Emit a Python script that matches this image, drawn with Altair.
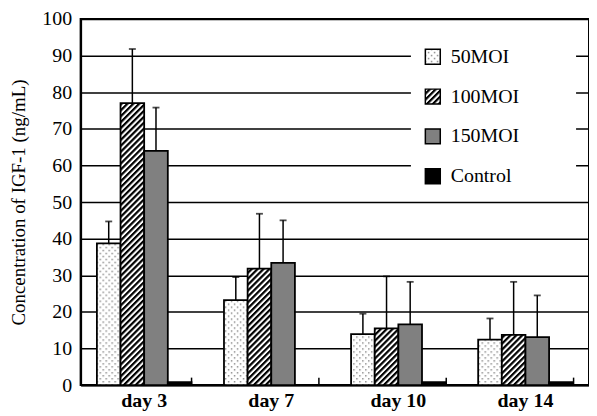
import altair as alt
import pandas as pd
import jinja2
from altair.utils.html import HTML_TEMPLATE

days = ["day 3", "day 7", "day 10", "day 14"]
groups = ["50MOI", "100MOI", "150MOI", "Control"]

mean_50 = [38.7, 23.2, 13.9, 12.4]
err_50 = [6.0, 6.3, 5.6, 5.8]
mean_100 = [77.0, 31.8, 15.5, 13.7]
err_100 = [14.8, 15.0, 14.2, 14.5]
mean_150 = [64.0, 33.4, 16.6, 13.1]
err_150 = [11.8, 11.6, 11.6, 11.4]
mean_ctrl = [0.8, None, 0.8, 0.8]
err_ctrl = [None, None, None, None]

fills = ["url(#dots) white", "url(#hatch) #333333", "#808080", "#000000"]

rows = []
for g, means, errs in zip(groups, [mean_50, mean_100, mean_150, mean_ctrl],
                          [err_50, err_100, err_150, err_ctrl]):
    for d, m, e in zip(days, means, errs):
        if m is None:
            continue
        rows.append({"day": d, "group": g, "mean": m, "err": e,
                     "upper": (m + e) if e is not None else None})
df = pd.DataFrame(rows)

FONT = "Liberation Serif"
H = 368

x_scale = alt.Scale(paddingInner=0.256, paddingOuter=0.128)
xo = alt.XOffset("group:N", sort=groups, scale=alt.Scale(paddingInner=0, paddingOuter=0))
y_axis = alt.Axis(values=list(range(0, 101, 10)), grid=True, ticks=False,
                  title="Concentration of IGF-1 (ng/mL)")
y_scale = alt.Scale(domain=[0, 100], nice=False)

base = alt.Chart(df)

pad_expr = "datum.label + '" + "\u00a0" * 9 + "\u200b'"

bars = base.mark_bar(stroke="black", strokeWidth=1.8).encode(
    x=alt.X("day:N", sort=days, scale=x_scale,
            axis=alt.Axis(title=None, ticks=False, labelAngle=0, labelFontWeight="bold",
                          labelPadding=6, grid=False)),
    xOffset=xo,
    y=alt.Y("mean:Q", scale=y_scale, axis=y_axis),
    color=alt.Color("group:N", sort=groups,
                    scale=alt.Scale(domain=groups, range=fills),
                    legend=alt.Legend(title=None, labelExpr=pad_expr,
                                      orient="none", legendX=332, legendY=16,
                                      symbolType="square", symbolSize=225,
                                      symbolStrokeColor="black", symbolStrokeWidth=1.5,
                                      labelFont=FONT, labelFontSize=20, labelColor="black",
                                      rowPadding=18, padding=12, fillColor="white",
                                      labelOffset=8)),
)

err_df = base.transform_filter("datum.err != null")

rules = err_df.mark_rule(color="black", strokeWidth=1.5).encode(
    x=alt.X("day:N", sort=days, scale=x_scale,
            axis=alt.Axis(orient="top", offset=-H, labels=False, domain=False,
                          ticks=True, tickBand="extent", tickSize=8, tickWidth=1.5,
                          tickColor="black", title=None, grid=False)),
    xOffset=xo,
    y=alt.Y("mean:Q", scale=y_scale, axis=y_axis),
    y2="upper:Q",
)

caps = err_df.mark_tick(color="black", size=7, thickness=1.8).encode(
    x=alt.X("day:N", sort=days, scale=x_scale, axis=None),
    xOffset=xo,
    y=alt.Y("upper:Q", scale=y_scale, axis=y_axis),
)

chart = alt.layer(bars, rules, caps).resolve_axis(x="independent").properties(
    width=511, height=H, padding={"left": 2, "top": 0, "right": 0, "bottom": 0}
).configure_view(
    stroke="black", strokeWidth=2
).configure_axis(
    labelFont=FONT, labelFontSize=20, labelColor="black",
    titleFont=FONT, titleFontSize=19, titleFontWeight="normal", titleColor="black",
    domainColor="black", domainWidth=2, gridColor="black", gridWidth=1.5,
    gridOpacity=1, labelPadding=9, titlePadding=13,
)

PATTERN_DEFS = (
    '<svg width="0" height="0" style="position:absolute"><defs>'
    '<pattern id="dots" patternUnits="userSpaceOnUse" width="6" height="6">'
    '<rect width="6" height="6" fill="white"/>'
    '<rect x="1" y="1" width="1.4" height="1.4" fill="#7a7a7a"/>'
    '<rect x="4" y="4" width="1.4" height="1.4" fill="#7a7a7a"/>'
    '</pattern>'
    '<pattern id="hatch" patternUnits="userSpaceOnUse" width="4.2" height="4.2" '
    'patternTransform="rotate(45)">'
    '<rect width="4.2" height="4.2" fill="white"/>'
    '<rect width="2.2" height="4.2" fill="black"/>'
    '</pattern>'
    '</defs></svg>'
)


class PatternPage(jinja2.Template):
    def render(self, *args, **kwargs):
        html = HTML_TEMPLATE.render(*args, **kwargs)
        return html.replace('<div id="', PATTERN_DEFS + '<div id="', 1)


try:
    chart.save("out.html", embed_options={"renderer": "svg", "actions": False},
               template=PatternPage(""))
except Exception:
    chart.save("out.html", embed_options={"renderer": "svg", "actions": False})
